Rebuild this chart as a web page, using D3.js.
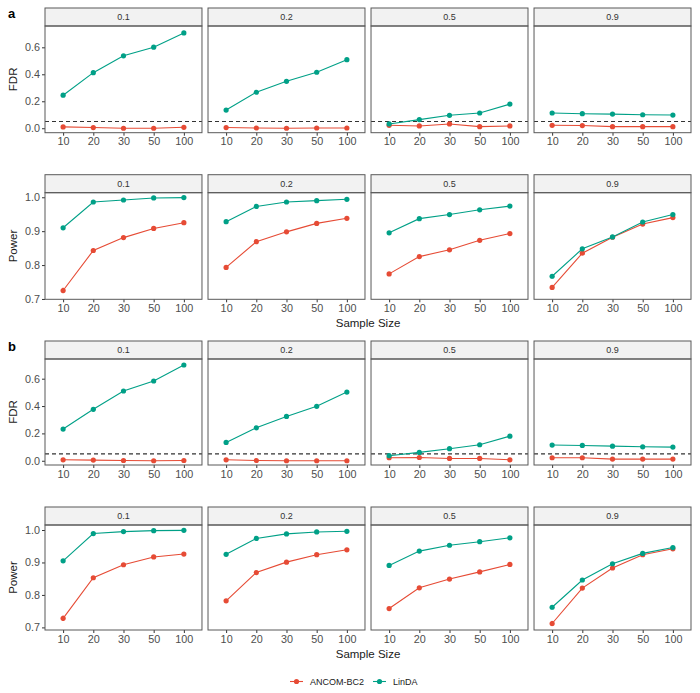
<!DOCTYPE html>
<html>
<head>
<meta charset="utf-8">
<script src="https://cdn.jsdelivr.net/npm/d3@7/dist/d3.min.js"></script>
<style>
  body { margin: 0; background: #fff; }
  svg { font-family: "Liberation Sans", Arial, Helvetica, sans-serif; }
</style>
</head>
<body>
<script>
(function() {

    // FDR / Power of ANCOM-BC2 vs LinDA, faceted by proportion, two scenarios (a, b)

    var width = 700,
        height = 693;

    var sampleSizes = ["10", "20", "30", "50", "100"];
    var facets = ["0.1", "0.2", "0.5", "0.9"];
    var methods = ["ANCOM-BC2", "LinDA"];
    var colors = ["#E64B35", "#00A087"];

    // values per facet (0.1, 0.2, 0.5, 0.9), each over sampleSizes
    var fdrA_ancom = [
        [0.010, 0.005, 0.000, 0.000, 0.007],
        [0.005, 0.002, 0.000, 0.002, 0.002],
        [0.022, 0.017, 0.032, 0.012, 0.017],
        [0.022, 0.020, 0.012, 0.012, 0.012]
    ];
    var fdrA_linda = [
        [0.245, 0.412, 0.537, 0.601, 0.707],
        [0.135, 0.267, 0.348, 0.415, 0.508],
        [0.032, 0.064, 0.096, 0.113, 0.179],
        [0.113, 0.108, 0.105, 0.100, 0.098]
    ];
    var powerA_ancom = [
        [0.725, 0.843, 0.881, 0.908, 0.925],
        [0.793, 0.869, 0.898, 0.923, 0.938],
        [0.774, 0.825, 0.845, 0.873, 0.893],
        [0.734, 0.835, 0.882, 0.921, 0.940]
    ];
    var powerA_linda = [
        [0.910, 0.986, 0.992, 0.998, 0.999],
        [0.928, 0.973, 0.986, 0.990, 0.994],
        [0.895, 0.937, 0.949, 0.963, 0.974],
        [0.767, 0.848, 0.883, 0.927, 0.949]
    ];
    var fdrB_ancom = [
        [0.007, 0.005, 0.002, 0.000, 0.002],
        [0.007, 0.002, 0.000, 0.000, 0.000],
        [0.022, 0.024, 0.017, 0.017, 0.007],
        [0.022, 0.022, 0.012, 0.012, 0.012]
    ];
    var fdrB_linda = [
        [0.232, 0.376, 0.510, 0.583, 0.700],
        [0.134, 0.241, 0.324, 0.398, 0.502],
        [0.037, 0.061, 0.088, 0.117, 0.180],
        [0.115, 0.112, 0.107, 0.102, 0.100]
    ];
    var powerB_ancom = [
        [0.728, 0.853, 0.893, 0.917, 0.926],
        [0.782, 0.869, 0.901, 0.924, 0.939],
        [0.758, 0.822, 0.849, 0.871, 0.894],
        [0.712, 0.821, 0.883, 0.924, 0.942]
    ];
    var powerB_linda = [
        [0.905, 0.989, 0.995, 0.998, 0.999],
        [0.925, 0.974, 0.988, 0.994, 0.996],
        [0.891, 0.935, 0.953, 0.964, 0.976],
        [0.762, 0.846, 0.896, 0.928, 0.946]
    ];

    // error bar half-widths (standard errors), same layout as above
    var seFdrA_linda = [
        [0.012, 0.015, 0.012, 0.010, 0.005],
        [0.006, 0.006, 0.005, 0.005, 0.004],
        [0.003, 0.003, 0.003, 0.003, 0.003],
        [0.003, 0.003, 0.003, 0.003, 0.003]
    ];
    var sePowerA_ancom = [
        [0.008, 0.005, 0.003, 0.003, 0.002],
        [0.005, 0.003, 0.003, 0.002, 0.002],
        [0.004, 0.003, 0.002, 0.002, 0.002],
        [0.007, 0.004, 0.003, 0.002, 0.002]
    ];
    var seFdrB_linda = [
        [0.012, 0.015, 0.010, 0.010, 0.005],
        [0.006, 0.006, 0.005, 0.005, 0.004],
        [0.003, 0.003, 0.003, 0.003, 0.003],
        [0.003, 0.003, 0.003, 0.003, 0.003]
    ];
    var sePowerB_ancom = [
        [0.008, 0.005, 0.003, 0.003, 0.002],
        [0.005, 0.003, 0.003, 0.002, 0.002],
        [0.005, 0.003, 0.002, 0.002, 0.002],
        [0.008, 0.004, 0.003, 0.002, 0.002]
    ];
    var sePowerLinda_n10 = [0.003, 0.003, 0.003, 0.006];

    var fdrTicks = [0, 0.2, 0.4, 0.6];
    var powerTicks = [0.7, 0.8, 0.9, 1.0];
    var fdrLevel = 0.05;

    var zeros = facets.map(function() { return sampleSizes.map(function() { return 0; }); });
    var lindaPowerSe = facets.map(function(f, i) {
        return sampleSizes.map(function(s, j) { return j === 0 ? sePowerLinda_n10[i] : 0.002; });
    });

    // one row of facets per metric and scenario
    var rows = [
        {tag: "a", metric: "FDR",   top: 8,     plotH: 106.7, domain: [-0.033, 0.758], ticks: fdrTicks,
            series: [fdrA_ancom, fdrA_linda], se: [zeros, seFdrA_linda], xTitle: false},
        {tag: null, metric: "Power", top: 174.7, plotH: 106.6, domain: [0.699, 1.0135], ticks: powerTicks,
            series: [powerA_ancom, powerA_linda], se: [sePowerA_ancom, lindaPowerSe], xTitle: true},
        {tag: "b", metric: "FDR",   top: 341,   plotH: 106,   domain: [-0.031, 0.744], ticks: fdrTicks,
            series: [fdrB_ancom, fdrB_linda], se: [zeros, seFdrB_linda], xTitle: false},
        {tag: null, metric: "Power", top: 507,   plotH: 105,   domain: [0.692, 1.0154], ticks: powerTicks,
            series: [powerB_ancom, powerB_linda], se: [sePowerB_ancom, lindaPowerSe], xTitle: true}
    ];

    var stripH = 18,
        left = 45,
        right = 691;

    var svg = d3.select("body")
        .append("svg")
        .attr("width", width)
        .attr("height", height);

    var facetX = d3.scaleBand()
        .domain(facets)
        .range([left, right])
        .paddingInner(0.037);

    var x = d3.scalePoint()
        .domain(sampleSizes)
        .range([0, facetX.bandwidth()])
        .padding(0.6);

    rows.forEach(function(row) {
        var plotTop = row.top + stripH,
            plotBottom = plotTop + row.plotH;

        var y = d3.scaleLinear()
            .domain(row.domain)
            .range([plotBottom, plotTop]);

        if (row.tag) {
            svg.append("text")
                .attr("x", 8)
                .attr("y", row.top + 10)
                .attr("font-size", 13)
                .attr("font-weight", "bold")
                .attr("fill", "#000")
                .text(row.tag);
        }

        // y title
        svg.append("text")
            .attr("transform", "translate(17," + ((plotTop + plotBottom) / 2) + ") rotate(-90)")
            .attr("text-anchor", "middle")
            .attr("font-size", 11.5)
            .attr("fill", "#1a1a1a")
            .text(row.metric);

        // y axis on first facet
        var yAxis = svg.append("g")
            .attr("transform", "translate(" + left + ",0)")
            .call(d3.axisLeft(y).tickValues(row.ticks).tickFormat(d3.format(".1f")).tickSize(3).tickPadding(2));
        yAxis.select(".domain").remove();
        yAxis.selectAll("line").attr("stroke", "#333");
        yAxis.selectAll("text").attr("font-size", 10.8).attr("fill", "#4d4d4d").attr("font-family", null);

        facets.forEach(function(f, fi) {
            var g = svg.append("g")
                .attr("transform", "translate(" + facetX(f) + ",0)");
            var bw = facetX.bandwidth();

            // strip
            g.append("rect")
                .attr("x", 0).attr("y", row.top)
                .attr("width", bw).attr("height", stripH)
                .attr("fill", "#f2f2f2")
                .attr("stroke", "#595959")
                .attr("stroke-width", 1);
            g.append("text")
                .attr("x", bw / 2)
                .attr("y", row.top + stripH / 2 + 3.2)
                .attr("text-anchor", "middle")
                .attr("font-size", 9)
                .attr("fill", "#333")
                .text(f);

            // x axis
            var xAxis = g.append("g")
                .attr("transform", "translate(0," + plotBottom + ")")
                .call(d3.axisBottom(x).tickSize(3).tickPadding(2));
            xAxis.select(".domain").remove();
            xAxis.selectAll("line").attr("stroke", "#333");
            xAxis.selectAll("text").attr("font-size", 10.8).attr("fill", "#4d4d4d").attr("font-family", null);

            if (row.metric === "FDR") {
                g.append("line")
                    .attr("x1", 0).attr("x2", bw)
                    .attr("y1", y(fdrLevel)).attr("y2", y(fdrLevel))
                    .attr("stroke", "#333")
                    .attr("stroke-width", 1.1)
                    .attr("stroke-dasharray", "4,3");
            }

            var line = d3.line()
                .x(function(d, i) { return x(sampleSizes[i]); })
                .y(function(d) { return y(d); });

            row.series.forEach(function(s, si) {
                var vals = s[fi];
                var se = row.se[si][fi];
                g.append("path")
                    .datum(vals)
                    .attr("d", line)
                    .attr("fill", "none")
                    .attr("stroke", colors[si])
                    .attr("stroke-width", 1.1);
                g.selectAll(null)
                    .data(vals)
                    .enter()
                    .append("line")
                    .attr("x1", function(d, i) { return x(sampleSizes[i]); })
                    .attr("x2", function(d, i) { return x(sampleSizes[i]); })
                    .attr("y1", function(d, i) { return y(d - se[i]); })
                    .attr("y2", function(d, i) { return y(d + se[i]); })
                    .attr("stroke", colors[si])
                    .attr("stroke-width", 1.8);
                g.selectAll(null)
                    .data(vals)
                    .enter()
                    .append("circle")
                    .attr("cx", function(d, i) { return x(sampleSizes[i]); })
                    .attr("cy", function(d) { return y(d); })
                    .attr("r", 2.6)
                    .attr("fill", colors[si]);
            });

            // panel border
            g.append("rect")
                .attr("x", 0).attr("y", plotTop)
                .attr("width", bw).attr("height", row.plotH)
                .attr("fill", "none")
                .attr("stroke", "#595959")
                .attr("stroke-width", 1);
        });

        if (row.xTitle) {
            svg.append("text")
                .attr("x", (left + right) / 2)
                .attr("y", plotBottom + 28)
                .attr("text-anchor", "middle")
                .attr("font-size", 11.5)
                .attr("fill", "#1a1a1a")
                .text("Sample Size");
        }
    });

    // legend
    var legendY = 681.5;
    var legendX = [290, 373];
    var legendText = [310, 393];
    methods.forEach(function(m, i) {
        svg.append("line")
            .attr("x1", legendX[i]).attr("x2", legendX[i] + 13)
            .attr("y1", legendY).attr("y2", legendY)
            .attr("stroke", colors[i]).attr("stroke-width", 1.1);
        svg.append("circle")
            .attr("cx", legendX[i] + 6.5).attr("cy", legendY)
            .attr("r", 2.6).attr("fill", colors[i]);
        svg.append("text")
            .attr("x", legendText[i]).attr("y", legendY + 3.3)
            .attr("font-size", 9)
            .attr("fill", "#1a1a1a")
            .text(m);
    });

})();
</script>
</body>
</html>
